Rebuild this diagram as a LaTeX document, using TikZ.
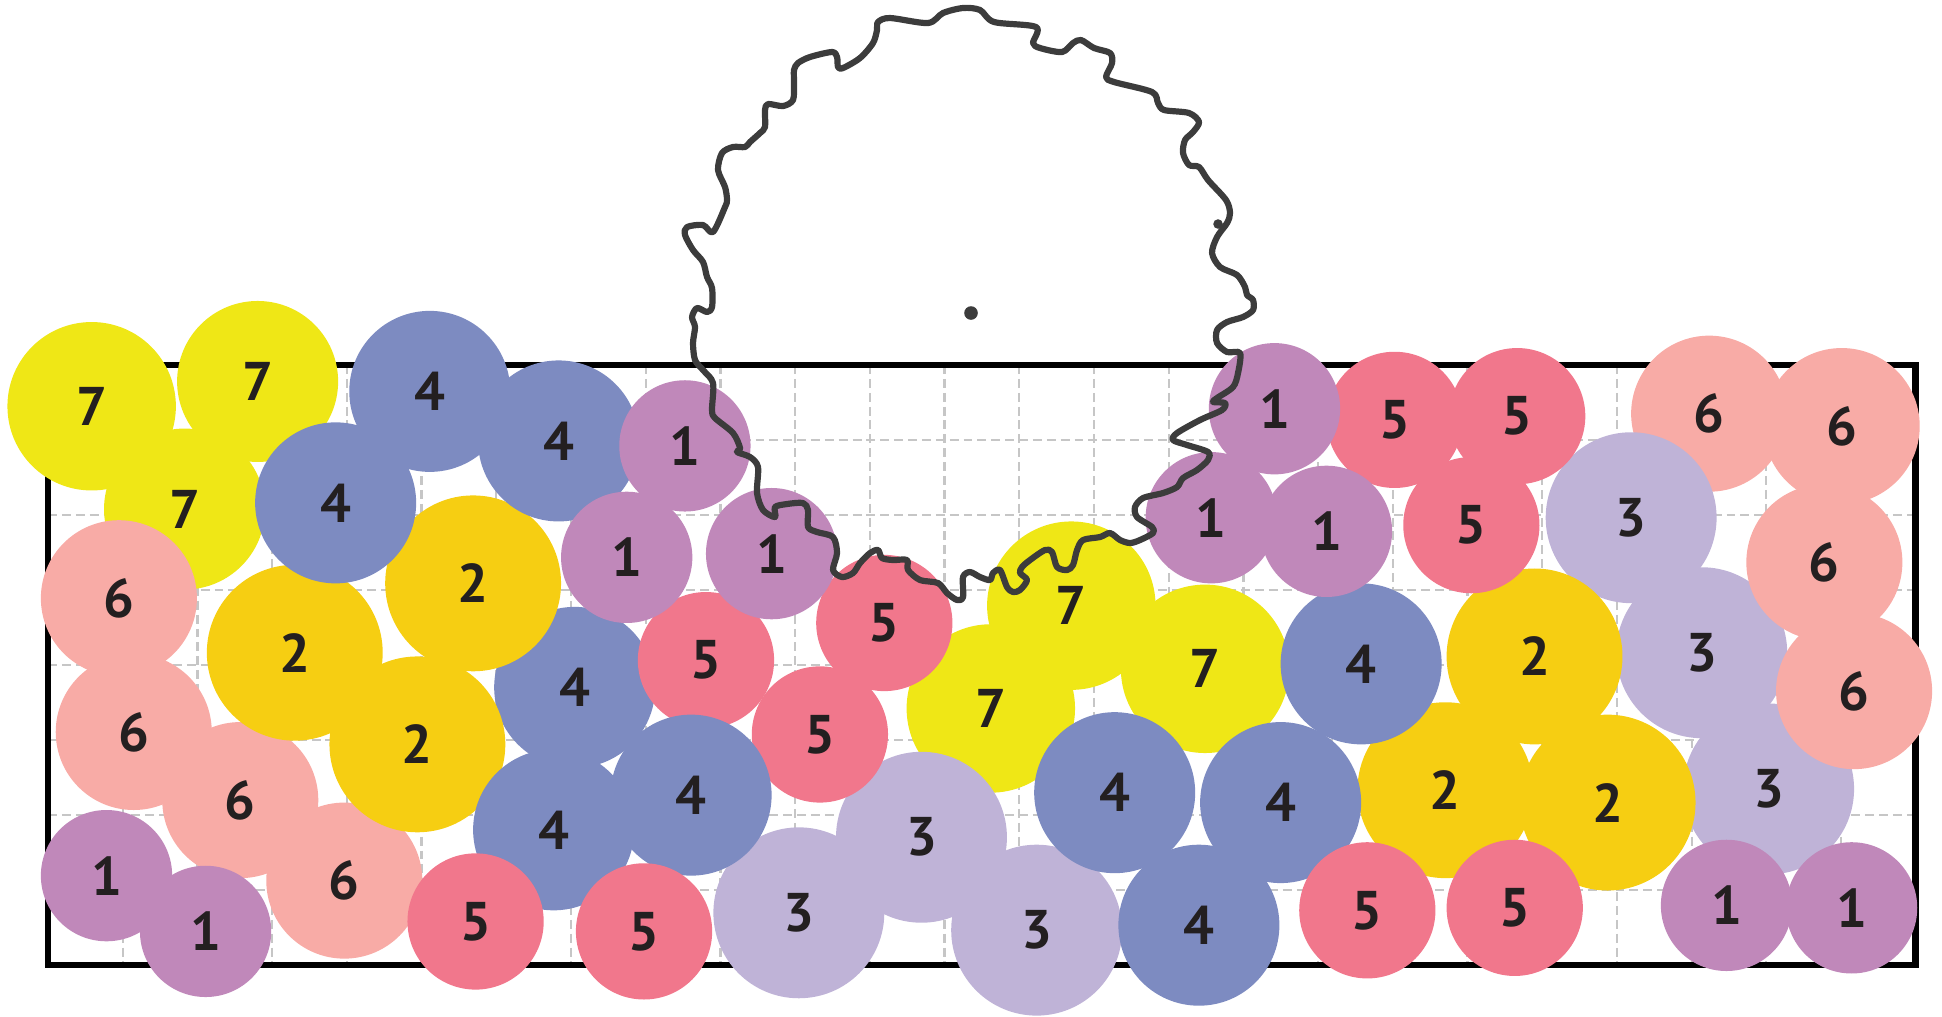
\documentclass[tikz,border=0pt]{standalone}
\usepackage{fontspec}
\usepackage{tikz}
\newfontfamily\digitfont{PT Sans}

\definecolor{ink}{HTML}{231F20}
\definecolor{wire}{HTML}{3C3C3C}
\definecolor{gridgray}{HTML}{C6C6C6}
\definecolor{cpurple}{HTML}{C088BA}
\definecolor{cgold}{HTML}{F6CE12}
\definecolor{clilac}{HTML}{BFB3D7}
\definecolor{cblue}{HTML}{7D8BC1}
\definecolor{cred}{HTML}{F1778C}
\definecolor{csalmon}{HTML}{F8ABA6}
\definecolor{cyellow}{HTML}{EFE716}

\tikzset{
  ball/.style={circle, inner sep=0pt, text=ink,
    font=\digitfont\bfseries\fontsize{22}{24}\selectfont},
  purpleball/.style={ball, fill=cpurple, minimum size=53pt},
  goldball/.style={ball, fill=cgold, minimum size=71pt},
  lilacball/.style={ball, fill=clilac, minimum size=69pt},
  blueball/.style={ball, fill=cblue, minimum size=65pt},
  redball/.style={ball, fill=cred, minimum size=55pt},
  salmonball/.style={ball, fill=csalmon, minimum size=63pt},
  yellowball/.style={ball, fill=cyellow, minimum size=68pt},
  gridline/.style={gridgray, line width=0.9pt, dash pattern=on 3.6pt off 2pt},
  frameline/.style={black, line width=2.6pt},
  wavyline/.style={wire, line width=2.5pt, line join=round}
}

\begin{document}
\begin{tikzpicture}[x=0.5pt, y=-0.5pt]
\useasboundingbox (0,0) rectangle (1568,821);

% Grid and frame
\foreach \k in {1,...,24}
  \draw[gridline] ({38.8+\k*60.32},294.7) -- ({38.8+\k*60.32},779.2);
\foreach \k in {1,...,7}
  \draw[gridline] (38.8,{294.7+\k*60.56}) -- (1546.7,{294.7+\k*60.56});
\draw[frameline] (38.8,294.7) rectangle (1546.7,779.2);

% Sevens
\node[yellowball] (y1) at (74,328) {7};
\node[yellowball, minimum size=65pt] (y2) at (208,308) {7};
\node[yellowball, minimum size=65pt] (y3) at (149,411) {7};
\node[yellowball] (y4) at (865,489) {7};
\node[yellowball] (y5) at (973,540) {7};
\node[yellowball] (y6) at (800,572) {7};

% Threes and sixes
\node[salmonball] (s1) at (1380,334) {6};
\node[lilacball] (l1) at (1317,418) {3};
\node[lilacball] (l2) at (1374,527) {3};
\node[lilacball] (l3) at (1428,637) {3};
\node[lilacball] (l4) at (744,676) {3};
\node[lilacball] (l5) at (645,737) {3};
\node[lilacball] (l6) at (837,751) {3};
\node[salmonball] (s2) at (1487,344) {6};
\node[salmonball] (s3) at (1473,454) {6};
\node[salmonball] (s4) at (1497,558) {6};
\node[salmonball] (s5) at (96,483) {6};
\node[salmonball] (s6) at (108,591) {6};
\node[salmonball] (s7) at (194,646) {6};
\node[salmonball] (s8) at (278,711) {6};

% Twos, fours and fives
\node[blueball] (b1) at (464,555) {4};
\node[redball] (r1) at (662,593) {5};
\node[redball] (r2) at (570,533) {5};
\node[goldball] (g1) at (382,471) {2};
\node[goldball] (g2) at (238,527) {2};
\node[goldball] (g3) at (337,601) {2};
\node[goldball] (g4) at (1239,530) {2};
\node[goldball] (g5) at (1167,638) {2};
\node[goldball] (g6) at (1298,648) {2};
\node[blueball] (b2) at (347,316) {4};
\node[blueball] (b3) at (451,356) {4};
\node[blueball] (b4) at (271,406) {4};
\node[blueball] (b5) at (447,670) {4};
\node[blueball] (b6) at (558,642) {4};
\node[blueball] (b7) at (900,640) {4};
\node[blueball] (b8) at (1034,648) {4};
\node[blueball] (b9) at (968,747) {4};
\node[blueball] (b10) at (1099,536) {4};
\node[redball] (r3) at (714,503) {5};
\node[redball] (r4) at (384,744) {5};
\node[redball] (r5) at (520,752) {5};
\node[redball] (r6) at (1126,339) {5};
\node[redball] (r7) at (1225,336) {5};
\node[redball] (r8) at (1188,424) {5};
\node[redball] (r9) at (1104,735) {5};
\node[redball] (r10) at (1223,733) {5};

% Ones
\node[purpleball] (p1) at (553,360) {1};
\node[purpleball] (p2) at (506,450) {1};
\node[purpleball] (p3) at (623,447) {1};
\node[purpleball] (p4) at (1029,330) {1};
\node[purpleball] (p5) at (978,418) {1};
\node[purpleball] (p6) at (1071,429) {1};
\node[purpleball] (p7) at (86,707) {1};
\node[purpleball] (p8) at (166,752) {1};
\node[purpleball] (p9) at (1394,731) {1};
\node[purpleball] (p10) at (1495,733) {1};

% Wavy outline
\begin{scope}[scale=0.80743]
\draw[wavyline] plot[smooth cycle, tension=0.5] coordinates {
  (963,8) (943,13) (928,23) (890,18) (878,22) (877,30) (873,43) (860,58)
  (843,68) (838,67) (837,57) (832,52) (810,57) (798,63) (794,70) (794,83)
  (793,100) (783,106) (768,104) (765,110) (765,127) (760,133) (750,142)
  (745,147) (733,147) (722,153) (718,170) (725,187) (727,200) (725,207)
  (713,232) (703,225) (687,227) (685,235) (693,250) (703,262) (707,277)
  (712,288) (712,307) (707,312) (697,308) (692,317) (695,327) (693,343)
  (695,360) (703,370) (713,383) (712,410) (715,418) (733,433) (740,448)
  (737,452) (750,457) (758,467) (757,493) (763,510) (775,517) (775,507)
  (787,504) (803,503) (808,510) (808,527) (817,532) (833,537) (837,553)
  (833,570) (842,577) (853,573) (860,563) (870,553) (878,550) (882,558)
  (893,560) (907,560) (908,570) (920,580) (938,583) (947,593) (957,600)
  (963,597) (963,577) (970,572) (980,577) (990,580) (993,573) (1000,570)
  (1007,587) (1013,592) (1020,590) (1027,580) (1020,573) (1022,567)
  (1030,560) (1045,550) (1052,552) (1057,567) (1067,570) (1073,565)
  (1077,550) (1083,540) (1100,537) (1110,533) (1120,540) (1130,543)
  (1140,540) (1153,533) (1152,527) (1137,517) (1135,507) (1143,498)
  (1163,493) (1177,487) (1183,478) (1197,470) (1208,460) (1208,452)
  (1187,445) (1173,440) (1177,433) (1200,420) (1222,410) (1225,403)
  (1213,402) (1217,398) (1233,387) (1238,373) (1240,353) (1227,352)
  (1217,343) (1217,330) (1227,322) (1243,317) (1253,310) (1253,300)
  (1247,295) (1245,287) (1237,275) (1220,267) (1212,253) (1217,237)
  (1227,223) (1230,213) (1226,200) (1208,180) (1199,167) (1189,165)
  (1183,153) (1185,140) (1193,132) (1199,122) (1189,113) (1164,110)
  (1158,103) (1152,92) (1114,82) (1106,77) (1112,63) (1110,53) (1094,48)
  (1081,40) (1073,43) (1062,52) (1040,48) (1033,43) (1036,27) (994,22)
  (980,10)};
\fill[wire] (1218,224) circle (2.4pt);
\fill[wire] (971,313) circle (3.4pt);
\end{scope}

\end{tikzpicture}
\end{document}
